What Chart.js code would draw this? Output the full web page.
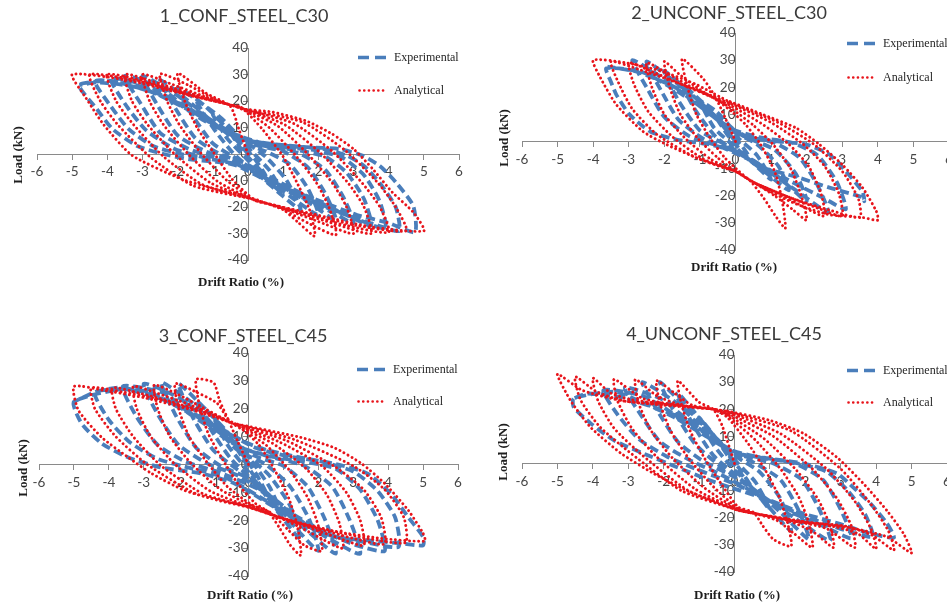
<!DOCTYPE html>
<html><head><meta charset="utf-8">
<script src="https://cdn.jsdelivr.net/npm/chart.js@4.4.0/dist/chart.umd.min.js"></script>
<style>
html,body{margin:0;padding:0;width:947px;height:604px;overflow:hidden;background:#fff;}
canvas{position:absolute;}
.t{position:absolute;font-family:Lato,"Open Sans",sans-serif;font-size:18px;color:#3a3a3a;white-space:nowrap;transform:translate(-50%,-50%);}
.ax{position:absolute;font-family:"Liberation Serif","Times New Roman",serif;font-weight:bold;font-size:13px;color:#1e1e1e;white-space:nowrap;transform:translate(-50%,-50%);}
.ay{position:absolute;font-family:"Liberation Serif","Times New Roman",serif;font-weight:bold;font-size:13px;color:#1e1e1e;white-space:nowrap;transform:translate(-50%,-50%) rotate(-90deg);}
.lg{position:absolute;font-family:"Liberation Serif","Times New Roman",serif;font-size:12px;color:#262626;white-space:nowrap;display:flex;align-items:center;transform:translateY(-50%);}
.lg svg{margin-right:7px;display:block;}
</style>
</head><body>
<canvas id="c1" width="470" height="300" style="left:0;top:0"></canvas>
<canvas id="c2" width="490" height="300" style="left:470px;top:0"></canvas>
<canvas id="c3" width="470" height="304" style="left:0;top:300px"></canvas>
<canvas id="c4" width="490" height="304" style="left:470px;top:300px"></canvas>

<div class="t" style="left:244px;top:15px">1_CONF_STEEL_C30</div>
<div class="t" style="left:729px;top:12px">2_UNCONF_STEEL_C30</div>
<div class="t" style="left:243px;top:335px">3_CONF_STEEL_C45</div>
<div class="t" style="left:724px;top:333px">4_UNCONF_STEEL_C45</div>

<div class="ax" style="left:241px;top:282px">Drift Ratio (%)</div>
<div class="ax" style="left:734px;top:267px">Drift Ratio (%)</div>
<div class="ax" style="left:250px;top:595px">Drift Ratio (%)</div>
<div class="ax" style="left:737px;top:595px">Drift Ratio (%)</div>

<div class="ay" style="left:18px;top:155px">Load (kN)</div>
<div class="ay" style="left:504px;top:138px">Load (kN)</div>
<div class="ay" style="left:23px;top:468px">Load (kN)</div>
<div class="ay" style="left:503px;top:452px">Load (kN)</div>

<div id="legends"></div>

<script>
// ---------- data (drift %, load kN) ----------
const seriesNames = ["Experimental", "Analytical"];
const xTicks = [-6,-5,-4,-3,-2,-1,0,1,2,3,4,5,6];
const yTicks = [-40,-30,-20,-10,0,10,20,30,40];
const titles = ["1_CONF_STEEL_C30","2_UNCONF_STEEL_C30","3_CONF_STEEL_C45","4_UNCONF_STEEL_C45"];

const c1Experimental = [
[0,0],[-0.5,8],[-0.2,2],[0.2,-4],[0.5,-8],[0.2,-2],[-0.2,4],
[-1,15],[-0.6,6],[-0.1,-1],[0.4,-8],[1,-15],[0.6,-6],[0.1,1],[-0.4,8],
[-1.5,21],[-1.0,10],[-0.4,0],[0.4,-9],[1.0,-16],[1.5,-21],[1.1,-10],[0.5,-1],[-0.2,6],[-0.8,14],
[-2.0,25],[-1.6,15],[-1.0,4],[-0.3,-2],[0.5,-9],[1.2,-16],[2.0,-23],[1.7,-13],[1.2,-4],[0.5,1],[-0.3,5],[-1.0,12],[-1.6,19],
[-2.5,28],[-2.1,18],[-1.5,6],[-0.8,0],[0,-4],[0.8,-11],[1.7,-18],[2.5,-25],[2.2,-15],[1.7,-5],[1.0,1],[0.2,3.5],[-0.6,9],[-1.4,16],[-2.0,22],
[-3.0,29.5],[-2.6,19],[-2.0,7],[-1.2,1],[-0.3,-3],[0.7,-10],[1.6,-17],[2.4,-22],[3.0,-26],[2.7,-16],[2.2,-6],[1.5,0],[0.6,3],[-0.3,6],[-1.1,12],[-1.9,19],[-2.5,25],
[-3.5,29.5],[-3.05,19],[-2.5,8],[-1.7,2],[-0.8,-2],[0.2,-6],[1.1,-12],[2.0,-18],[2.8,-23],[3.5,-27],[3.3,-17],[2.8,-7],[2.2,-1],[1.4,1.5],[0.5,3],[-0.4,7],[-1.3,13],[-2.1,20],[-2.8,25.5],
[-3.9,28.5],[-3.45,18],[-2.9,9],[-2.1,2],[-1.2,-1.5],[-0.3,-4],[0.8,-11],[1.9,-18],[2.9,-23.5],[3.9,-28],[3.75,-18],[3.3,-8],[2.7,-1.5],[1.9,1.5],[1.0,2.5],[0.1,5],[-0.8,10],[-1.6,16],[-2.5,22],[-3.3,26.5],
[-4.35,27.5],[-3.9,18],[-3.4,9.5],[-2.7,3],[-1.9,0],[-1.1,-2],[-0.3,-4.5],[0.8,-12],[1.9,-18.5],[2.9,-23.5],[3.7,-27],[4.3,-29],[4.2,-20],[3.75,-11],[3.3,-4.5],[2.8,-0.5],[2.1,2],[1.2,3],[0.3,4.5],[-0.5,8],[-1.3,14],[-2.1,20],[-3.0,24.5],[-3.9,27.5],
[-4.8,26],[-4.3,17],[-3.85,9.4],[-3.15,3],[-2.4,0],[-1.7,-1.9],[-0.9,-3],[-0.15,-4.5],[0.9,-12],[2.1,-18],[3.1,-23],[4.0,-26],[4.75,-29.5],[4.7,-19.6],[4.2,-10.6],[3.75,-4.5],[3.27,-0.7],[2.6,1.9],[1.67,2.6],[0.7,3.8],[-0.2,5.7],[-0.9,10.6],[-1.65,17],[-2.4,22],[-3.35,25.7],[-4.3,27],[-4.8,26]
];
const c1Analytical = [
[0,0],[-0.25,9],[-0.5,18],[-1.2,23],[-2,30.5],
[-1.8,20],[-1.45,10],[-1.0,1],[-0.45,-9.5],[0.2,-17.5],
[0.9,-20],[1.4,-25.5],[1.9,-31],
[1.75,-21],[1.4,-11],[1.0,-1],[0.4,9.5],[-0.2,17.7],
[-0.5,18.5],[-1.0,21],[-1.7,26],[-2.5,30.2],
[-2.3,20],[-1.95,11],[-1.35,0.5],[-0.6,-10],[0.2,-17.5],
[0.5,-18.5],[1.0,-21],[1.7,-26],[2.5,-30.5],
[2.3,-20],[1.95,-11],[1.35,-0.5],[0.6,10],[-0.2,17.6],
[-0.5,18.5],[-1.2,21.5],[-2.2,26.5],[-3,30],
[-2.8,20],[-2.4,11],[-1.7,0],[-0.85,-10.5],[0.2,-17.5],
[0.5,-18.5],[1.2,-21.5],[2.2,-26.5],[3,-30],
[2.8,-20],[2.4,-11],[1.7,0],[0.85,10.5],[-0.2,17.5],
[-0.5,18.5],[-1.3,21.5],[-2.5,26.5],[-3.5,30],
[-3.3,20],[-2.85,11],[-2.05,-0.5],[-1.05,-11],[0.2,-17.4],
[0.5,-18.5],[1.3,-21.5],[2.5,-26.5],[3.5,-30],
[3.3,-20],[2.85,-11],[2.05,0.5],[1.05,11],[-0.2,17.4],
[-0.5,18.5],[-1.5,22],[-2.8,27],[-4,30],
[-3.75,20],[-3.25,11],[-2.4,-1],[-1.3,-11.5],[0.2,-17.3],
[0.5,-18.5],[1.5,-22],[2.8,-27],[4,-29.5],
[3.75,-20],[3.25,-11],[2.4,1],[1.3,11.5],[-0.2,17.3],
[-0.5,18.5],[-1.6,22],[-3.1,27.5],[-4.5,30],
[-4.2,20],[-3.7,11],[-2.75,-1.5],[-1.55,-12],[0.2,-17.2],
[0.5,-18.5],[1.6,-22],[3.1,-27],[4.5,-29],
[4.2,-20],[3.7,-11],[2.75,1.5],[1.55,12],[-0.2,17.2],
[-0.5,18.5],[-1.8,22.5],[-3.5,28],[-5,30],
[-4.6,21],[-4.1,11],[-3.3,-0.5],[-1.9,-9.4],[-1,-13],[0.2,-17],
[0.5,-18.5],[1.8,-22.5],[3.5,-27.5],[5,-29],
[4.7,-22],[4.1,-14.4],[3.55,-5.7],[3.0,1.9],[2.4,7.5],[1.67,12.4],[0.7,15.8],[-0.2,17]
];

const c2Experimental = [
[0,0],[-0.5,8],[-0.2,2],[0.2,-4],[0.5,-8],[0.2,-2],[-0.3,5],
[-1,15],[-0.6,5],[-0.1,-1],[0.5,-8],[1,-14],[0.6,-5],[0.1,1],[-0.5,9],
[-1.5,21],[-1.1,11],[-0.5,1],[0.3,-6],[0.9,-12],[1.5,-18],[1.2,-9],[0.6,-1],[-0.1,4],[-0.7,11],
[-2,26],[-1.6,15],[-1.0,4],[-0.3,-1],[0.5,-7],[1.2,-13],[2,-22],[1.7,-12],[1.1,-3],[0.4,1],[-0.3,6],[-1,14],[-1.6,21],
[-2.5,29.5],[-2.1,19],[-1.6,8],[-0.9,1],[-0.1,-3],[0.8,-10],[1.7,-18],[2.6,-26],[2.3,-16],[1.8,-6],[1.1,-0.5],[0.3,2],[-0.5,8],[-1.3,16],[-2,23],
[-2.9,30],[-2.5,20],[-2.0,9],[-1.3,2],[-0.4,-2],[0.6,-8],[1.6,-15],[2.5,-21],[3.1,-25],[2.85,-15],[2.3,-5],[1.6,-0.5],[0.7,1.5],[-0.2,5],[-0.9,12],[-1.7,19],[-2.6,25.5],
[-3.63,27],[-3.5,22],[-3.35,17.3],[-2.98,10],[-2.4,3.7],[-1.66,0.7],[-0.73,-1.1],[0,-3.7],[0.76,-9.6],[1.7,-13],[2.64,-17],[3.57,-20.6],[3.62,-22],[3.57,-18.5],[3.1,-11],[2.64,-4.8],[2.0,-1.1],[1.24,0],[0.3,1.5],[-0.1,5],[-0.53,11],[-1.1,16],[-1.85,21],[-2.8,25.8],[-3.6,27.6]
];
const c2Analytical = [
[0,0],[-0.3,9],[-0.55,16],[-0.9,23],[-1.5,30.5],
[-1.35,20],[-1.1,10],[-0.7,1],[-0.3,-6],[0.1,-11],
[0.45,-15],[0.8,-21],[1.1,-27],[1.4,-32],
[1.3,-21],[1.1,-11],[0.7,-1],[0.3,6],[-0.1,11],
[-0.5,15],[-1.1,20],[-1.6,25],[-2,29.5],
[-1.85,20],[-1.55,10],[-1.05,1],[-0.5,-6],[0,-11],
[0.5,-15],[1.1,-20],[1.6,-25],[2,-29],
[1.85,-20],[1.55,-10],[1.05,-1],[0.5,6],[-0.1,12],
[-0.6,16],[-1.3,20.5],[-1.9,25],[-2.5,29],
[-2.35,20],[-2.0,10],[-1.4,1],[-0.7,-6.5],[0,-11],
[0.5,-15],[1.2,-19],[1.9,-24],[2.5,-27.5],
[2.4,-19],[2.05,-9],[1.5,-1],[0.8,6],[-0.1,13],
[-0.6,16],[-1.5,21],[-2.3,25.5],[-3,29],
[-2.85,21],[-2.45,11],[-1.75,1.5],[-0.9,-6.5],[0,-11],
[0.5,-15],[1.4,-20],[2.3,-24.5],[3,-27.5],
[2.9,-19],[2.5,-9],[1.9,-1],[1.0,7],[-0.15,14],
[-0.7,17],[-1.7,22],[-2.7,26.5],[-3.5,29.5],
[-3.3,22],[-2.9,12],[-2.2,2.5],[-1.1,-6],[0,-11],
[0.5,-15],[1.6,-21],[2.7,-25.5],[3.5,-28],
[3.45,-21],[3.0,-11],[2.2,-1],[1.2,7],[-0.15,14.5],
[-1.1,21],[-2.05,25.8],[-3.06,29],[-4,30],
[-3.8,23.6],[-3.35,13.6],[-2.6,3.7],[-1.94,-1.1],[-1.1,-6],[-0.36,-9.6],[0,-11],
[0.76,-17],[1.7,-23],[2.64,-27],[3.57,-28],[4,-29],
[3.96,-25.8],[3.57,-17],[3.0,-8.5],[2.36,-1.1],[1.7,5],[0.76,10],[-0.17,14.8]
];

const c3Experimental = [
[0,0],[-0.5,9],[-0.2,3],[0.2,-5],[0.5,-10],[0.2,-3],[-0.2,4],
[-1,17],[-0.6,7],[-0.1,-1],[0.5,-11],[1,-19],[0.6,-8],[0.1,1],[-0.5,10],
[-1.5,23],[-1.1,13],[-0.5,2],[0.3,-8],[0.9,-18],[1.5,-27],[1.2,-15],[0.6,-4],[0,3],[-0.7,13],
[-2,29],[-1.6,17],[-1.0,5],[-0.3,-2],[0.6,-11],[1.3,-22],[2,-31],[1.75,-20],[1.2,-8],[0.5,0],[-0.3,5],[-1,14],[-1.6,22],
[-2.5,29.5],[-2.1,18],[-1.5,6],[-0.8,-0.5],[0,-5],[0.8,-14],[1.7,-24],[2.5,-32],[2.2,-20],[1.7,-8],[1.0,-0.5],[0.2,3],[-0.6,10],[-1.4,18],[-2,24],
[-3,29],[-2.6,18],[-2.0,7],[-1.2,0.5],[-0.3,-4],[0.7,-12],[1.7,-22],[2.5,-28],[3.2,-32],[2.9,-20],[2.4,-8],[1.6,-0.5],[0.7,2.5],[-0.2,6],[-1.0,13],[-1.9,21],[-2.5,26],
[-3.6,28],[-3.2,17],[-2.6,7],[-1.8,1],[-0.8,-3],[0.3,-9],[1.3,-18],[2.3,-25],[3.1,-29],[3.9,-31],[3.7,-20],[3.2,-9],[2.5,-1.5],[1.6,1],[0.6,3],[-0.3,6.5],[-1.2,14],[-2.1,21.5],[-3,26.5],
[-4.4,26],[-4.0,16],[-3.4,8],[-2.6,2],[-1.6,-1.5],[-0.6,-5],[0.5,-13],[1.4,-20],[2.4,-25.5],[3.4,-28],[4.3,-29.5],[4.2,-19],[3.7,-9.5],[3.0,-2.5],[2.1,1],[1.1,3],[0.2,6],[-0.7,12],[-1.6,18.5],[-2.6,24],[-3.6,27],
[-5,22.5],[-4.78,14.7],[-4.2,7.5],[-3.44,2.5],[-2.5,-1.1],[-1.35,-3.2],[-0.4,-6.8],[0.57,-14],[1.5,-21],[2.46,-26],[3.4,-27.2],[4.38,-28.3],[5.0,-29],[5,-26],[4.58,-19],[4.07,-10.4],[3.4,-3.2],[2.46,0.3],[1.5,2.5],[0.57,5],[0,7.5],[-0.86,13.3],[-1.83,19.4],[-2.78,25.4],[-3.72,27.6],[-4.4,26],[-5,22.5]
];
const c3Analytical = [
[0,0],[-0.3,8],[-0.57,15.8],[-0.83,23],[-1.0,29.4],[-1.5,30.5],
[-1.4,21],[-1.15,11],[-0.75,2],[-0.3,-7],[0.2,-14],
[0.57,-17],[0.9,-23],[1.2,-29],[1.5,-32.6],
[1.4,-22],[1.15,-12],[0.75,-2],[0.3,7],[-0.3,14],
[-0.57,16],[-0.9,22],[-1.5,26],[-2.1,29],
[-2.0,20],[-1.7,10],[-1.2,1],[-0.6,-8],[0.1,-14.5],
[0.6,-17],[1.1,-23],[1.6,-29],[2.1,-31],
[2.0,-22],[1.7,-12],[1.2,-2.5],[0.5,7],[-0.4,14.2],
[-0.8,17],[-1.4,21],[-2.0,25],[-2.7,28.5],
[-2.6,20],[-2.25,10],[-1.65,0.5],[-0.8,-9],[0.1,-14.8],
[0.7,-18],[1.4,-22],[2.0,-26],[2.7,-30],
[2.6,-21],[2.25,-11],[1.65,-1.5],[0.7,7.5],[-0.4,14.4],
[-1.0,18],[-1.8,22],[-2.6,25.5],[-3.3,28],
[-3.2,20],[-2.8,10],[-2.1,0],[-1.1,-9.5],[0,-15],
[0.8,-18.5],[1.7,-22.5],[2.5,-26],[3.3,-29],
[3.2,-20],[2.8,-10],[2.1,-0.5],[0.9,8],[-0.4,14.5],
[-1.2,18.5],[-2.2,22.5],[-3.1,25.5],[-3.9,27.5],
[-3.8,20],[-3.3,10],[-2.5,-0.5],[-1.3,-10.5],[0,-15.2],
[0.9,-19],[2.0,-23],[3.0,-26.5],[3.9,-28.5],
[3.8,-19],[3.3,-9],[2.5,-1],[1.1,8.5],[-0.4,14.6],
[-1.4,19],[-2.6,23.5],[-3.6,26],[-4.5,27.5],
[-4.4,20],[-3.8,10],[-2.9,0],[-1.5,-10.5],[0,-15.3],
[1.0,-19.5],[2.3,-23.5],[3.4,-26.5],[4.5,-28],
[4.45,-19],[3.9,-9],[3.0,-0.5],[1.3,9],[-0.4,14.7],
[-1.6,19.5],[-3.0,24],[-4.1,26.5],[-5,28],
[-4.87,19.4],[-4.2,9.7],[-3.44,2.5],[-2.78,-3.2],[-1.83,-9.3],[-0.86,-12.9],[0,-15.4],
[1.2,-20],[2.5,-24],[3.8,-26.5],[5.05,-27.5],
[5.0,-24.7],[4.58,-16.5],[3.9,-6.8],[3.24,0.3],[2.46,6],[1.5,9.7],[-0.4,14.7]
];

const c4Experimental = [
[0,0],[-0.5,9],[-0.2,3],[0.2,-4],[0.5,-9],[0.2,-3],[-0.2,4],
[-1,17],[-0.6,7],[-0.1,-1],[0.5,-9],[1,-17],[0.6,-7],[0.1,0],[-0.5,9],
[-1.6,26],[-1.2,15],[-0.6,3],[0.2,-6],[0.9,-15],[1.6,-25],[1.3,-13],[0.7,-3],[0,3],[-0.8,13],
[-2.1,30],[-1.7,19],[-1.1,7],[-0.4,-1],[0.5,-9],[1.3,-18],[2.1,-28],[1.8,-17],[1.3,-6],[0.6,0],[-0.2,5],[-1.0,14],[-1.6,22],
[-2.6,30],[-2.2,20],[-1.6,8],[-0.9,1],[0,-5],[0.9,-13],[1.8,-21],[2.7,-28.5],[2.4,-17],[1.9,-6],[1.1,0],[0.2,3],[-0.6,9],[-1.5,18],[-2.1,24],
[-3.1,28],[-2.7,19],[-2.1,8],[-1.3,1.5],[-0.4,-4],[0.6,-11],[1.6,-18],[2.5,-23],[3.3,-27.5],[3.0,-17],[2.5,-6],[1.7,0],[0.8,2],[-0.1,5],[-0.9,12],[-1.8,19],[-2.6,25],
[-3.7,27],[-3.3,18],[-2.7,9],[-1.9,2.5],[-0.9,-3],[0.1,-8],[1.1,-14.5],[2.1,-20],[3.1,-24.5],[3.9,-27],[3.7,-19],[3.2,-10],[2.6,-3],[1.8,0],[0.9,2],[0,4],[-0.8,10],[-1.7,17],[-2.6,22.5],[-3.4,26.5],
[-4.54,24],[-4.54,20.7],[-4.06,14.8],[-3.4,8.5],[-2.57,3.7],[-1.6,-1.5],[-0.68,-6.3],[-0.1,-8.9],[1,-13.6],[1.96,-18.5],[2.9,-22],[3.84,-25.8],[4.5,-27.3],[4.3,-22],[3.84,-14.8],[3.36,-8.9],[2.9,-3.7],[1.96,0],[1.0,1.8],[0.08,3.7],[-0.68,9.6],[-1.33,15.9],[-2.28,20.7],[-3.2,24.4],[-4.15,25.8],[-4.54,24]
];
const c4Analytical = [
[0,0],[-0.35,14],[-0.6,20],[-1.0,22.6],[-1.6,30.5],
[-1.5,22],[-1.25,12],[-0.85,2],[-0.35,-8],[0.1,-16],
[0.54,-18],[0.8,-23],[1.1,-28],[1.6,-30.5],
[1.5,-22],[1.25,-12],[0.85,-2],[0.35,8],[-0.2,17],
[-0.6,20],[-1.2,21.5],[-1.7,26],[-2.2,30.5],
[-2.1,22],[-1.8,12],[-1.3,2],[-0.6,-8.5],[0.1,-16.5],
[0.6,-18.5],[1.2,-21],[1.7,-26],[2.2,-31],
[2.1,-22],[1.8,-12],[1.3,-2],[0.6,8.5],[-0.2,17.5],
[-0.6,20],[-1.5,21.5],[-2.2,25],[-2.8,31],
[-2.7,22],[-2.35,12],[-1.75,2],[-0.85,-9],[0.1,-16.8],
[0.6,-18.5],[1.5,-21],[2.2,-25],[2.8,-31],
[2.7,-23],[2.35,-13],[1.75,-2.5],[0.85,9],[-0.2,18],
[-0.6,20],[-1.6,21.5],[-2.6,24],[-3.4,31],
[-3.3,23],[-2.9,13],[-2.2,2.5],[-1.1,-9.5],[0.1,-17],
[0.6,-18.5],[1.6,-21],[2.6,-24],[3.4,-31],
[3.3,-23],[2.9,-13],[2.2,-2],[1.1,10],[-0.2,18.5],
[-0.6,20],[-1.7,21.5],[-2.9,23.5],[-3.5,26],[-4,31.5],
[-3.85,23],[-3.4,13],[-2.6,3],[-1.3,-10],[0.1,-17],
[0.6,-18.5],[1.7,-21],[2.9,-23.5],[3.5,-26],[4,-31.5],
[3.85,-24],[3.4,-14],[2.6,-2],[1.3,11],[-0.2,19],
[-0.6,20],[-1.8,21.5],[-3.1,23],[-3.9,26.5],[-4.5,32],
[-4.35,23.5],[-3.8,13.5],[-2.9,3.5],[-1.5,-10],[0.1,-17.2],
[0.6,-18.5],[1.8,-21.5],[3.1,-23],[3.9,-26.5],[4.5,-32],
[4.35,-25],[3.85,-15],[3.0,-2],[1.6,12],[-0.25,19.3],
[-0.6,20],[-2.0,21.5],[-3.2,23.2],[-4.3,27],[-5,33],
[-4.63,23.2],[-4.06,13.3],[-3.2,3.7],[-2.28,-3.7],[-1.33,-10],[-0.4,-14.8],[0.1,-17.3],
[0.6,-18.5],[2.0,-21.5],[3.2,-23.5],[4.3,-27],[5,-33],
[4.77,-25.8],[4.3,-17.3],[3.64,-7.4],[2.9,2.2],[1.96,11],[1.0,15.9],[-0.3,19.6]
];

// ---------- rendering ----------
const BLUE = '#4a7ebb';
const RED = '#e8141b';
const AXIS = '#8a8a8a';

const panels = [
  {id:'c1', exp:c1Experimental, ana:c1Analytical, pad:{left:37,right:11,top:48,bottom:40}},
  {id:'c2', exp:c2Experimental, ana:c2Analytical, pad:{left:52,right:11,top:33,bottom:50}},
  {id:'c3', exp:c3Experimental, ana:c3Analytical, pad:{left:39,right:12,top:53,bottom:28}},
  {id:'c4', exp:c4Experimental, ana:c4Analytical, pad:{left:52,right:13,top:55,bottom:32}}
];

const toXY = arr => arr.map(p => ({x:p[0], y:p[1]}));
const tickFont = {family: 'Lato', size: 13.5};

panels.forEach(p => {
  new Chart(document.getElementById(p.id), {
    type: 'scatter',
    data: {
      datasets: [
        {label: seriesNames[1], data: toXY(p.ana), showLine: true, pointRadius: 0,
         borderColor: RED, borderWidth: 2.9, borderDash: [0.1, 4.5], borderCapStyle: 'round',
         tension: 0.2, fill: false},
        {label: seriesNames[0], data: toXY(p.exp), showLine: true, pointRadius: 0,
         borderColor: BLUE, borderWidth: 3.8, borderDash: [9, 4.5], borderCapStyle: 'butt',
         tension: 0.2, fill: false}
      ]
    },
    options: {
      responsive: false, animation: false,
      layout: {padding: p.pad},
      plugins: {legend: {display: false}, tooltip: {enabled: false}, title: {display: false}},
      scales: {
        x: {type: 'linear', position: {y: 0}, min: -6, max: 6,
            afterBuildTicks: s => { s.ticks = xTicks.map(v => ({value: v})); },
            border: {display: true, color: AXIS, width: 1},
            grid: {drawOnChartArea: false, drawTicks: true, tickLength: 5, color: AXIS},
            ticks: {autoSkip: false, maxRotation: 0, padding: 5, color: '#464646', font: tickFont}},
        y: {type: 'linear', position: {x: 0}, min: -40, max: 40,
            afterBuildTicks: s => { s.ticks = yTicks.map(v => ({value: v})); },
            border: {display: true, color: AXIS, width: 1},
            grid: {drawOnChartArea: false, drawTicks: true, tickLength: 5, color: AXIS},
            ticks: {padding: 5, color: '#464646', font: tickFont}}
      }
    }
  });
});

// HTML legends
const legendPos = [[358,57,90],[847,43,77],[357,369,401],[847,370,402]];
const expSvg = '<svg width="29" height="8"><line x1="0" y1="4" x2="29" y2="4" stroke="'+BLUE+'" stroke-width="3.6" stroke-dasharray="11,6"/></svg>';
const anaSvg = '<svg width="29" height="8"><line x1="1.5" y1="4" x2="29" y2="4" stroke="'+RED+'" stroke-width="2.6" stroke-linecap="round" stroke-dasharray="0.1,4.6"/></svg>';
let html = '';
legendPos.forEach(l => {
  html += '<div class="lg" style="left:'+l[0]+'px;top:'+l[1]+'px">'+expSvg+seriesNames[0]+'</div>';
  html += '<div class="lg" style="left:'+l[0]+'px;top:'+l[2]+'px">'+anaSvg+seriesNames[1]+'</div>';
});
document.getElementById('legends').innerHTML = html;
</script>
</body></html>
